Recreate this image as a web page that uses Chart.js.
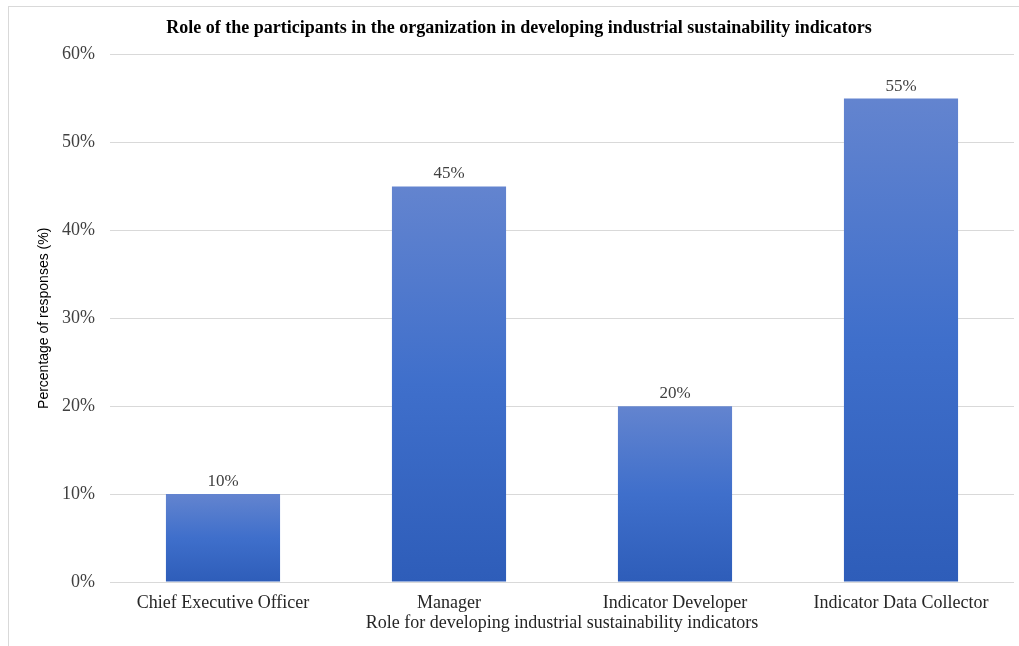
<!DOCTYPE html>
<html>
<head>
<meta charset="utf-8">
<script src="https://cdn.jsdelivr.net/npm/chart.js@4/dist/chart.umd.min.js"></script>
<style>
  body { margin: 0; background: #fff; }
  #wrap { position: relative; width: 1019px; height: 646px; }
  #frame { position: absolute; left: 8px; top: 6px; right: -2px; bottom: -2px; border: 1px solid #d9d9d9; pointer-events: none; }
</style>
</head>
<body>
<div id="wrap">
  <canvas id="roleChart" width="1019" height="646"></canvas>
  <div id="frame"></div>
</div>
<script>
const roles = ['Chief Executive Officer', 'Manager', 'Indicator Developer', 'Indicator Data Collector']
const shares = [10, 45, 20, 55]
const yTicks = [0, 10, 20, 30, 40, 50, 60]

const serif = '"Liberation Serif", "Times New Roman", serif'

// gradient per bar, lighter at top like the Excel fill
const barFill = (ctx) => {
  const chart = ctx.chart
  if (!chart.chartArea || ctx.raw === undefined) return '#4472c4'
  const y = chart.scales.y
  const top = y.getPixelForValue(ctx.raw)
  const bottom = y.getPixelForValue(0)
  const g = chart.ctx.createLinearGradient(0, top, 0, bottom)
  g.addColorStop(0, '#6384cf')
  g.addColorStop(0.5, '#3f6fcb')
  g.addColorStop(1, '#2e5db9')
  return g
}

const valueLabels = {
  id: 'valueLabels',
  afterDatasetsDraw(chart) {
    const c = chart.ctx
    const meta = chart.getDatasetMeta(0)
    c.save()
    c.font = '17px ' + serif
    c.fillStyle = '#404040'
    c.textAlign = 'center'
    c.textBaseline = 'bottom'
    meta.data.forEach((bar, i) => {
      c.fillText(shares[i] + '%', bar.x, bar.y - 4)
    })
    c.restore()
  }
}

const data = {
  labels: roles,
  datasets: [{
    data: shares,
    backgroundColor: barFill,
    borderWidth: 0,
    categoryPercentage: 1,
    barPercentage: 0.505
  }]
}

const config = {
  type: 'bar',
  data: data,
  plugins: [valueLabels],
  options: {
    responsive: false,
    animation: false,
    layout: { padding: { top: 18, right: 5, left: 24, bottom: 12 } },
    plugins: {
      legend: { display: false },
      tooltip: { enabled: false },
      title: {
        display: true,
        text: 'Role of the participants in the organization in developing industrial sustainability indicators',
        color: '#000',
        font: { family: serif, size: 18, weight: 'bold' },
        padding: { top: 0, bottom: 15 }
      }
    },
    scales: {
      y: {
        min: 0,
        max: 60,
        afterBuildTicks: (scale) => { scale.ticks = yTicks.map(v => ({ value: v })) },
        afterFit: (scale) => { scale.width = 86 },
        ticks: {
          callback: (v) => v + '%',
          color: '#404040',
          font: { family: serif, size: 18 },
          padding: 15
        },
        grid: { color: '#d9d9d9', drawTicks: false },
        border: { display: false },
        title: {
          display: true,
          text: 'Percentage of responses (%)',
          color: '#000',
          font: { family: '"Liberation Sans", Arial, sans-serif', size: 14 },
          padding: { top: 12, bottom: 0 }
        }
      },
      x: {
        afterFit: (scale) => { scale.height = 52 },
        ticks: {
          color: '#262626',
          font: { family: serif, size: 18 },
          padding: 10,
          maxRotation: 0
        },
        grid: { display: false, drawTicks: false },
        border: { display: false },
        title: {
          display: true,
          text: 'Role for developing industrial sustainability indicators',
          color: '#262626',
          font: { family: serif, size: 18 },
          padding: 0
        }
      }
    }
  }
}

const roleChart = new Chart(document.getElementById('roleChart'), config)
</script>
</body>
</html>
